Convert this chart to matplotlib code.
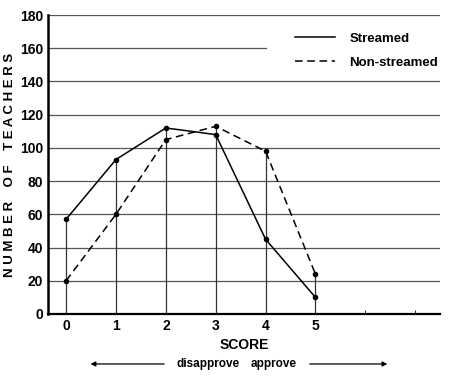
import numpy as np
import matplotlib
matplotlib.use("Agg")
import matplotlib.pyplot as plt

plt.rcParams['font.family'] = ['Liberation Sans', 'DejaVu Sans']

score = [0, 1, 2, 3, 4, 5]
streamed = [57, 93, 112, 108, 45, 10]
non_streamed = [20, 60, 105, 113, 98, 24]
y_ticks = [0, 20, 40, 60, 80, 100, 120, 140, 160, 180]

fig = plt.figure(figsize=(4.5, 3.76), dpi=100)
ax = fig.add_axes([0.107, 0.165, 0.871, 0.795])

ax.set_xlim(-0.36, 7.5)
ax.set_ylim(0, 180)

# horizontal rules, the 160 one stops short of the key
for yv in y_ticks[1:]:
    xend = 4.0 if yv == 160 else 7.5
    ax.plot([-0.36, xend], [yv, yv], color='#555555', lw=0.9, zorder=1)

# vertical drop lines up to the higher point
top = np.maximum(streamed, non_streamed)
ax.vlines(score, 0, top, color='#333333', lw=0.9, zorder=2)

ax.plot(score, streamed, color='black', lw=1.1, marker='o', ms=3, zorder=3,
        label='Streamed')
ax.plot(score, non_streamed, color='black', lw=1.1, ls=(0, (5, 3)), marker='o',
        ms=3, zorder=3, label='Non-streamed')

for s in ['top', 'right']:
    ax.spines[s].set_visible(False)
ax.spines['left'].set_linewidth(1.8)
ax.spines['bottom'].set_linewidth(1.6)

ax.set_yticks(y_ticks)
ax.set_xticks(score)
ax.set_xticks([6, 7], minor=True)
ax.tick_params(axis='both', length=0, labelsize=10)
ax.tick_params(axis='x', which='minor', length=3, direction='in')
for lab in ax.get_yticklabels() + ax.get_xticklabels():
    lab.set_fontweight('bold')

ax.set_ylabel('N U M B E R    O F    T E A C H E R S', fontsize=9.5,
              fontweight='bold', labelpad=3)
ax.set_xlabel('SCORE', fontsize=10, fontweight='bold', labelpad=4)

ax.legend(loc='upper right', bbox_to_anchor=(1.025, 0.982), frameon=False,
          handlelength=3.0, handletextpad=1.1,
          prop={'weight': 'bold', 'size': 9.5},
          labelspacing=0.9, markerscale=0)

fig.text(0.462, 0.032, 'disapprove', ha='center', va='center', fontsize=8.5,
         fontweight='bold')
fig.text(0.609, 0.032, 'approve', ha='center', va='center', fontsize=8.5,
         fontweight='bold')
fig.add_artist(matplotlib.patches.FancyArrowPatch(
    (0.371, 0.032), (0.195, 0.032), transform=fig.transFigure,
    arrowstyle='-|>', mutation_scale=7, lw=0.9, color='black'))
fig.add_artist(matplotlib.patches.FancyArrowPatch(
    (0.682, 0.032), (0.867, 0.032), transform=fig.transFigure,
    arrowstyle='-|>', mutation_scale=7, lw=0.9, color='black'))

fig.savefig('out.png', dpi=100)
